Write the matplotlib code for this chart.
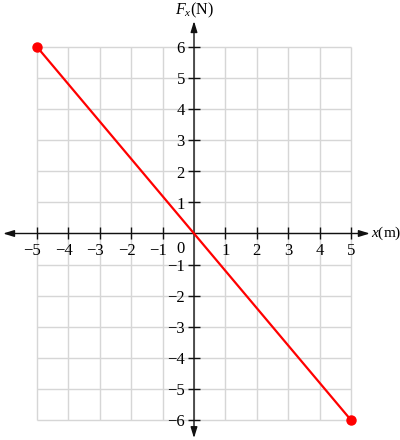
import matplotlib
matplotlib.use("Agg")
import matplotlib.pyplot as plt
import numpy as np

# data
x_vals = [-5, 5]
f_vals = [6, -6]
xticks = [-5, -4, -3, -2, -1, 1, 2, 3, 4, 5]
yticks = [-6, -5, -4, -3, -2, -1, 1, 2, 3, 4, 5, 6]
xlabel = "$x$(m)"
ylabel = "$F_x$(N)"

plt.rcParams['font.family'] = ['Liberation Serif', 'DejaVu Serif']
plt.rcParams['mathtext.fontset'] = 'custom'
plt.rcParams['mathtext.rm'] = 'Liberation Serif'
plt.rcParams['mathtext.it'] = 'Liberation Serif:italic'

fig = plt.figure(figsize=(4.0, 4.4), dpi=100)
ax = fig.add_axes([0, 0, 1, 1])
ux, x0 = 31.4, 194.0
uy, y0 = 31.1, 233.5
ax.set_xlim(-x0 / ux, (400 - x0) / ux)
ax.set_ylim(-(440 - y0) / uy, y0 / uy)

grid_c = '#d6d6d6'
allx = sorted(xticks + [0])
ally = sorted(yticks + [0])
ax.vlines(allx, ally[0], ally[-1], colors=grid_c, lw=1.0, zorder=1)
ax.hlines(ally, allx[0], allx[-1], colors=grid_c, lw=1.0, zorder=1)

# axes with arrows
ak = dict(arrowstyle='<|-|>,head_length=0.65,head_width=0.2', color='#111111',
          lw=1.0, mutation_scale=10, shrinkA=0, shrinkB=0)
ax.annotate('', xy=(5.6, 0), xytext=(-6.08, 0), arrowprops=ak, zorder=3)
ax.annotate('', xy=(0, 6.83), xytext=(0, -6.58), arrowprops=ak, zorder=3)

# tick marks via spines at zero
for s in ['left', 'bottom']:
    ax.spines[s].set_position('zero')
    ax.spines[s].set_color('none')
for s in ['right', 'top']:
    ax.spines[s].set_visible(False)
ax.set_xticks(xticks)
ax.set_yticks(yticks)
ax.tick_params(axis='both', direction='inout', length=8.5, width=1.0,
               color='#111111', labelbottom=False, labelleft=False)
for t in ax.xaxis.get_major_ticks() + ax.yaxis.get_major_ticks():
    t.set_zorder(4)

fs = 12
def lab(v):
    return ('\u2212' if v < 0 else '') + str(abs(v))

for v in xticks:
    ax.text(v + 0.13, -0.69, lab(v), ha='right', va='baseline', fontsize=fs)
for v in yticks:
    ax.text(-0.29, v - 0.2, lab(v), ha='right', va='baseline', fontsize=fs)
ax.text(-0.29, -0.62, '0', ha='right', va='baseline', fontsize=fs)

ax.text(0, 7.06, ylabel, ha='center', va='baseline', fontsize=11.5)
ax.text(5.64, -0.1, xlabel, ha='left', va='baseline', fontsize=11)

ax.plot(x_vals, f_vals, color='#ff0000', lw=1.6, zorder=5,
        marker='o', markersize=6.5, clip_on=False)

fig.savefig('out.png', dpi=100)
